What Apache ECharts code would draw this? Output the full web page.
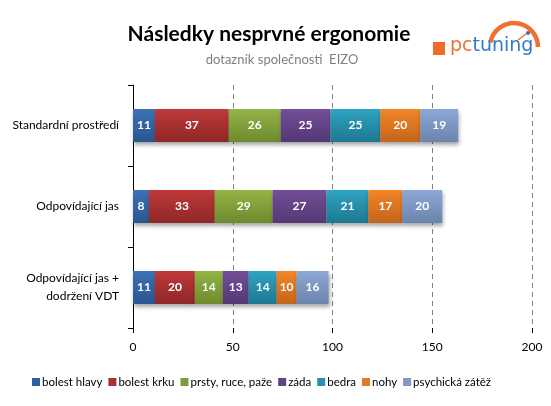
<!DOCTYPE html>
<html><head><meta charset="utf-8">
<script src="https://cdn.jsdelivr.net/npm/echarts@6/dist/echarts.min.js"></script>
<style>html,body{margin:0;padding:0;background:#fff}#c{width:551px;height:406px}</style>
</head><body><div id="c"></div>
<script>
const categories = ['Standardní prostředí', 'Odpovídající jas', 'Odpovídající jas +\ndodržení VDT'];
const seriesNames = ['bolest hlavy', 'bolest krku', 'prsty, ruce, paže', 'záda', 'bedra', 'nohy', 'psychická zátěž'];
const bolestHlavy = [11, 8, 11];
const bolestKrku = [37, 33, 20];
const prsty = [26, 29, 14];
const zada = [25, 27, 13];
const bedra = [25, 21, 14];
const nohy = [20, 17, 10];
const psychicka = [19, 20, 16];
const xTicks = [0, 50, 100, 150, 200];
const values = [bolestHlavy, bolestKrku, prsty, zada, bedra, nohy, psychicka];
const colors = [['#3C72B5','#2A5590'],['#C0393A','#8E2727'],['#93B446','#6E8A2E'],['#724F98','#533873'],['#2FA4C2','#1E7891'],['#F28527','#C4651A'],['#8DA8D6','#6A84AD']];
const legendColors = ['#2F5F9E','#A83232','#7E9C39','#604486','#2792AD','#E27A21','#8098C8'];
const font = 'Lato, "Open Sans", sans-serif';
const chart = echarts.init(document.getElementById('c'));
chart.setOption({
  animation: false,
  title: [
    {text: 'Následky nesprvné ergonomie', left: 264, top: 19, textAlign: 'center',
     textStyle: {fontFamily: font, fontSize: 21, fontWeight: 'bold', color: '#000'}},
    {text: 'dotazník společnosti  EIZO', left: 277, top: 48, textAlign: 'center',
     textStyle: {fontFamily: font, fontSize: 13, fontWeight: 'normal', color: '#7F7F7F'}}
  ],
  grid: {left: 133, right: 19, top: 85, bottom: 78},
  legend: {bottom: 13, left: 27, itemWidth: 8, itemHeight: 8, itemGap: 6,
    icon: 'rect', textStyle: {fontFamily: font, fontSize: 11.5, color: '#000', padding: [0,0,0,-3]},
    data: seriesNames.map((n, i) => ({name: n, itemStyle: {color: legendColors[i]}}))},
  xAxis: {type: 'value', min: 0, max: 200, interval: 50,
    axisLine: {show: false},
    axisTick: {show: true, length: 5, lineStyle: {color: '#000'}},
    axisLabel: {fontFamily: font, fontSize: 12, color: '#000', margin: 13},
    splitLine: {show: true, lineStyle: {type: [5, 4], color: '#808080', width: 1}}},
  yAxis: {type: 'category', inverse: true, data: categories,
    axisLine: {show: true, lineStyle: {color: '#000'}},
    axisTick: {show: true, length: 5, lineStyle: {color: '#000'}},
    axisLabel: {fontFamily: font, fontSize: 12, color: '#000', margin: 14, lineHeight: 18, align: 'right'}},
  series: seriesNames.map((n, i) => ({
    name: n, type: 'bar', stack: 'all', barWidth: 33,
    data: values[i],
    itemStyle: {color: new echarts.graphic.LinearGradient(0, 0, 0, 1, [{offset: 0, color: colors[i][0]}, {offset: 1, color: colors[i][1]}]),
      shadowColor: 'rgba(0,0,0,0.35)', shadowBlur: 4, shadowOffsetY: 3, shadowOffsetX: 1},
    label: {show: true, position: 'inside', color: '#fff', fontFamily: font, fontWeight: 'bold', fontSize: 12}
  })),
  graphic: [
    {type: 'arc', shape: {cx: 514, cy: 47, r: 24, startAngle: Math.PI * 1.06, endAngle: Math.PI * 2.0, clockwise: true},
     style: {stroke: '#F07030', lineWidth: 4.5, fill: null}},
    {type: 'line', shape: {x1: 518, y1: 40, x2: 526, y2: 34}, style: {stroke: '#F07030', lineWidth: 1.5}},
    {type: 'circle', shape: {cx: 528, cy: 33, r: 2}, style: {fill: '#2E6DB4'}},
    {type: 'rect', shape: {x: 433, y: 42, width: 12, height: 13}, style: {fill: '#F06A2A'}},
    {type: 'text', style: {x: 450, y: 37, text: '{o|pc}{b|tuning}',
      rich: {o: {fill: '#F07030', font: '19px "DejaVu Sans", sans-serif'}, b: {fill: '#2E7BC8', font: '19px "DejaVu Sans", sans-serif'}}}}
  ]
});
</script></body></html>
